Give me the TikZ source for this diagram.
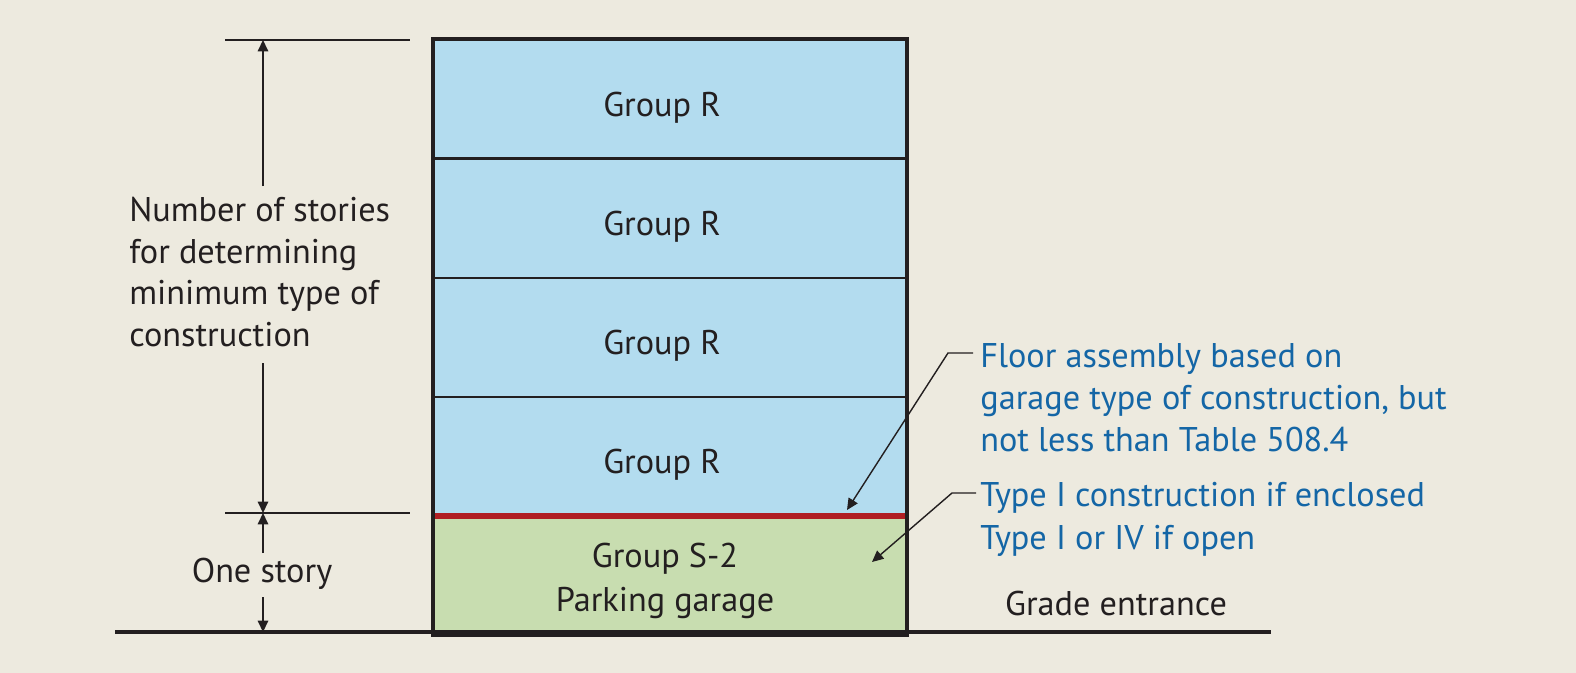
\documentclass[tikz,border=0pt]{standalone}
\usepackage{fontspec}
\setmainfont{PT Sans}
\usetikzlibrary{arrows.meta}

\definecolor{paper}{HTML}{EDEADF}
\definecolor{roomblue}{HTML}{B3DCEF}
\definecolor{garagegreen}{HTML}{C8DDB0}
\definecolor{slabred}{HTML}{B01E24}
\definecolor{notetext}{HTML}{1466A6}
\definecolor{ink}{HTML}{231F20}

\tikzset{
	floor/.style={draw=ink, line width=0.7pt, fill=roomblue, minimum width=9.44cm, minimum height=2.36cm, inner sep=0pt},
	garage/.style={floor, fill=garagegreen},
	caption/.style={text=ink, align=center, inner sep=0pt, font=\fontsize{19.5}{24.8}\selectfont},
	dimline/.style={draw=ink, line width=0.8pt},
	dimarrow/.style={dimline, -{Triangle[length=6.5pt,width=6pt]}},
	leader/.style={dimarrow},
	label/.style={text=ink, align=left, inner sep=0pt, font=\fontsize{19.5}{23.8}\selectfont},
	note/.style={label, text=notetext},
}

\begin{document}
\begin{tikzpicture}[x=0.02cm, y=-0.02cm]
	\fill[paper] (0,0) rectangle (1576,673);
	\useasboundingbox (0,0) rectangle (1576,673);

	% stories
	\node[floor] (r4) at (670,99) {};
	\node[floor, anchor=north] (r3) at (r4.south) {};
	\node[floor, anchor=north] (r2) at (r3.south) {};
	\node[floor, anchor=north] (r1) at (r2.south) {};
	\node[garage, anchor=north] (s2) at (r1.south) {};
	\foreach \f in {r4,r3,r2,r1}
		\node[caption] (\f-name) at ([xshift=-0.16cm, yshift=-0.17cm]\f.center) {Group R};
	\node[caption] (s2-name) at ([xshift=-0.1cm, yshift=-0.1cm]s2.center) {Group S-2\\Parking garage};

	\draw[slabred, line width=3.4pt] (s2.north west) -- (s2.north east);
	\draw[ink, line width=2.3pt] (r4.north west) rectangle (s2.south east);

	% grade
	\coordinate (gl) at (115,632);
	\coordinate (gr) at (1271,632);
	\draw[ink, line width=2.3pt] (gl) -- (gr);
	\node[label, anchor=center] (grade) at (1116,604) {Grade entrance};

	% dimensions
	\coordinate (ttl) at (225,40);
	\coordinate (ttr) at (410,40);
	\coordinate (mtl) at (225,513);
	\coordinate (mtr) at (410,513);
	\draw[dimline] (ttl) -- (ttr);
	\draw[dimline] (mtl) -- (mtr);

	\node[label, anchor=west] (nstories) at (129,272) {Number of stories\\for determining\\minimum type of\\construction};
	\coordinate (dtop) at (263,40);
	\coordinate (dmid) at (263,513);
	\coordinate (dbot) at (263,632);
	\coordinate (da) at (263,186);
	\coordinate (db) at (263,363);
	\draw[dimarrow] (da) -- (dtop);
	\draw[dimarrow] (db) -- (dmid);

	\node[label, anchor=center] (onestory) at (262,574) {One story};
	\coordinate (dc) at (263,553);
	\coordinate (dd) at (263,597);
	\draw[dimarrow] (dc) -- (dmid);
	\draw[dimarrow] (dd) -- (dbot);

	% notes
	\node[note, anchor=west] (floorlbl) at (980,398) {Floor assembly based on\\garage type of construction, but\\not less than Table 508.4};
	\node[note, anchor=west, font=\fontsize{19.5}{24.6}\selectfont] (typelbl) at (980,519) {Type I construction if enclosed\\Type I or IV if open};

	\coordinate (fa) at (973,353);
	\coordinate (fb) at (948,353);
	\coordinate (ftip) at (847,510);
	\draw[leader] (fa) -- (fb) -- (ftip);

	\coordinate (ta) at (976,493);
	\coordinate (tb) at (952,493);
	\coordinate (ttip) at (872,562);
	\draw[leader] (ta) -- (tb) -- (ttip);
\end{tikzpicture}
\end{document}
